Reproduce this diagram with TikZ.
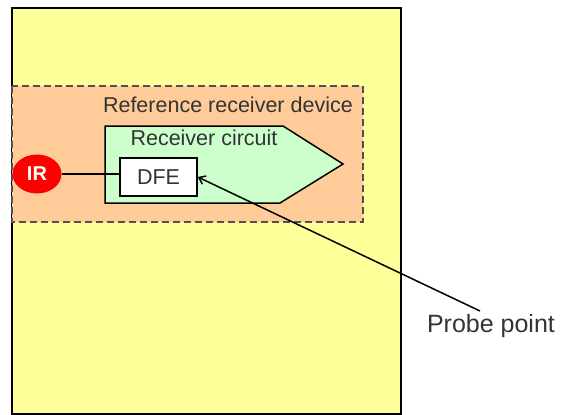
\documentclass[tikz,border=0pt]{standalone}
\usepackage{fontspec}
\setmainfont{Liberation Sans}
\usetikzlibrary{arrows.meta,shapes.geometric,positioning}
\definecolor{envyellow}{RGB}{255,255,153}
\definecolor{devorange}{RGB}{255,204,153}
\definecolor{rxgreen}{RGB}{204,255,204}
\definecolor{dashgray}{RGB}{80,80,80}

\begin{document}
\begin{tikzpicture}[x=1pt,y=-1pt,
  lbl/.style={font=\fontsize{21.5}{24}\selectfont,inner sep=0pt,text=black!80},
  blk/.style={draw,fill=white,line width=1.5pt,minimum width=77pt,minimum height=38pt,font=\fontsize{21.5}{24}\selectfont,text=black!80},
  src/.style={ellipse,fill=red,minimum width=49pt,minimum height=39pt,inner sep=0pt,text=white,font=\fontsize{20}{22}\selectfont\bfseries}]
  \useasboundingbox (0,0) rectangle (563,415);
  % environment and device
  \draw[fill=envyellow,line width=1.7pt] (12,8) rectangle (401,414);
  \draw[fill=devorange,draw=dashgray,dashed,dash pattern=on 7pt off 4pt,line width=1.5pt] (12,86) rectangle (363,222);
  \node[lbl,anchor=east] (dev) at (353,105) {Reference receiver device};
  % receiver circuit
  \draw[fill=rxgreen,line width=1.5pt] (105,126) -- (283,126) -- (343,164) -- (280,203) -- (105,203) -- cycle;
  \node[lbl] (rx) at (204,138) {Receiver circuit};
  \node[blk] (dfe) at (158.5,177) {DFE};
  \node[src] (ir) at (37,174) {IR};
  \draw[line width=1.5pt] (ir) -- (ir -| dfe.west);
  % probe
  \node[lbl,font=\fontsize{25}{28}\selectfont] (probe) at (491,326) {Probe point};
  \coordinate (tail) at (480,311);
  \draw[-{Straight Barb[length=6pt,width=9pt]},line width=1.5pt] (tail) -- (dfe.east);
\end{tikzpicture}
\end{document}
